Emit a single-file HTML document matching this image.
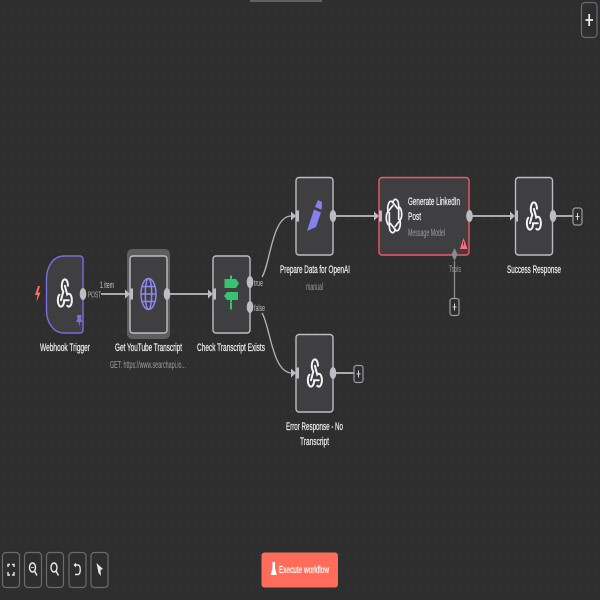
<!DOCTYPE html>
<html><head><meta charset="utf-8"><style>
html,body{margin:0;padding:0;width:600px;height:600px;overflow:hidden;background:#2e2e2e}
svg{display:block;filter:blur(0.35px)}
text{font-family:"Liberation Sans",sans-serif;fill:#f0f0f2;stroke:#f0f0f2;stroke-width:.22}
.s{fill:#9d9da1;stroke:none}
.n{fill:#3f3f42;stroke:#bcbdc4;stroke-width:1.4}
.c{fill:none;stroke:#bcbdc4;stroke-width:1.8}
.t{fill:none;stroke:#b5b6bc;stroke-width:1.3}
.d{fill:#bcbdc4}
.b{fill:#2e2e2e;stroke:#6a6b70;stroke-width:1.2}
.i{fill:none;stroke:#e8e8ea;stroke-width:1.4}
</style></head><body>
<svg width="600" height="600" viewBox="0 0 600 600" xmlns="http://www.w3.org/2000/svg">
<defs>
<pattern id="g" width="8" height="16" patternUnits="userSpaceOnUse" x="0" y="3"><rect x="3.5" y="7.5" width="1.1" height="1.1" fill="#434445"/></pattern>
<g id="hook" fill="none" stroke="#f4f4f5" stroke-width="2" stroke-linecap="round">
<g transform="scale(.78,1.6) translate(-11.5,-12.5)">
<path vector-effect="non-scaling-stroke" d="M4.876 13.61a4 4 0 1 0 6.124 3.39h6"/>
<path vector-effect="non-scaling-stroke" d="M15.066 20.502a4 4 0 1 0 1.934 -7.502c-.706 0 -1.424 .179 -2 .5l-3 -5.5"/>
<path vector-effect="non-scaling-stroke" d="M16 8a4 4 0 1 0 -8 0c0 1.506 .77 2.818 2 3.5l-3 5.5"/>
</g></g>
<g id="inp"><path d="M-5,-4.5 L0,0 L-5,4.5 Z" class="d"/><rect x="0" y="-5.5" width="3" height="11" class="d"/></g>
<g id="plus"><rect x="-4.500" y="-8.500" width="9" height="17" rx="2.500" fill="#2e2e2e" stroke="#9a9ba1" stroke-width="1.2"/><path d="M-2,0 H2 M0,-3.500 V3.500" stroke="#d5d5d8" stroke-width="1"/></g>
</defs>
<rect width="600" height="600" fill="#2e2e2e"/>
<rect width="600" height="600" fill="url(#g)"/>
<rect x="250" y="0" width="72" height="2" fill="#5f6060"/>

<!-- connectors -->
<path class="c" d="M101,294 H126"/>
<path class="c" d="M170,294 H209"/>
<path class="t" d="M262,277 C270,265 272,216 291,216"/>
<path class="t" d="M262,313 C270,325 272,373 292,373"/>
<path class="c" d="M336,216 H375"/>
<path class="c" d="M472,216 H511"/>
<path class="c" d="M556,216 H573"/>
<path class="c" d="M336,373 H355"/>
<path d="M454.500,261 V299" stroke="#8a8b92" stroke-width="1.3" fill="none"/>

<!-- halo -->
<rect x="127" y="249" width="43" height="90" rx="5" fill="#5d5e5e"/>

<!-- nodes -->
<path d="M80,256 a3,3 0 0 1 3,3 V330 a3,3 0 0 1 -3,3 H64 C53,333 46.500,322 46.500,310 V279 C46.500,267 53,256 64,256 Z" fill="#3f3f42" stroke="#7a6fdc" stroke-width="1.4"/>
<rect class="n" x="130" y="256" width="37" height="77" rx="3"/>
<rect class="n" x="213" y="256" width="37" height="77" rx="3"/>
<rect class="n" x="296" y="177.500" width="37" height="77.500" rx="3"/>
<rect x="379" y="177.500" width="90" height="77.500" rx="3" fill="#3f3f42" stroke="#ec5a68" stroke-width="1.4"/>
<rect class="n" x="515.500" y="177.500" width="37" height="77.500" rx="3"/>
<rect class="n" x="296" y="334.500" width="37" height="77.500" rx="3"/>

<!-- inputs -->
<use href="#inp" x="130" y="294"/><use href="#inp" x="213" y="294"/>
<use href="#inp" x="296" y="216"/><use href="#inp" x="379" y="216"/>
<use href="#inp" x="515" y="216"/><use href="#inp" x="296" y="373"/>

<!-- outputs -->
<ellipse class="d" cx="83" cy="294" rx="3.300" ry="6"/>
<ellipse class="d" cx="167" cy="294" rx="3.300" ry="6"/>
<ellipse class="d" cx="250" cy="282" rx="3.300" ry="6"/>
<ellipse class="d" cx="250" cy="307" rx="3.300" ry="6"/>
<ellipse class="d" cx="333" cy="216" rx="3.300" ry="6"/>
<ellipse class="d" cx="469.500" cy="216" rx="3.300" ry="6"/>
<ellipse class="d" cx="553" cy="216" rx="3.300" ry="6"/>
<ellipse class="d" cx="333" cy="373" rx="3.300" ry="6"/>
<path d="M454.500,248 L457.500,254.500 L454.500,261 L451.500,254.500 Z" fill="#8a8b92"/>

<use href="#plus" x="577.500" y="216.500"/>
<use href="#plus" x="358.500" y="374"/>
<use href="#plus" x="454.500" y="307"/>

<!-- icons -->
<use href="#hook" x="64.500" y="293"/>
<use href="#hook" x="533.500" y="216"/>
<use href="#hook" x="314.500" y="373"/>

<g fill="none" stroke="#8f87f1" stroke-width="1.500">
<ellipse cx="148.500" cy="294" rx="7.500" ry="15.500"/><ellipse cx="148.500" cy="294" rx="3.200" ry="15.500"/>
<path d="M141,294 H156 M142,286.500 H155 M142,301.500 H155"/>
</g>

<path d="M230,275.500 H232 V279 H236 L239,283.500 L236,288 H232 V292 H238 V300 H232 V302 H230 V300 H227 L224,296 L227,292 H230 V288 H224.500 V279 H230 Z" fill="#35c46f"/>
<rect x="230" y="302.500" width="2" height="7" fill="#35c46f"/>
<rect x="224" y="288" width="15" height="4" fill="#3f3f42"/>

<path d="M307,231 L314,209.500 L321,212.500 L316,227 Z" fill="#8680ee"/>
<path d="M315,207 L318,200 L322,202 L321.700,209.700 Z" fill="#8680ee"/>

<g fill="none" stroke="#f4f4f5" stroke-width="1.700">
<g transform="translate(394,216) scale(.72,1.6)">
<path vector-effect="non-scaling-stroke" d="M-2,-8 A4.500,4.500 0 0 1 6.500,-6 V2.500"/>
<path vector-effect="non-scaling-stroke" d="M-2,-8 A4.500,4.500 0 0 1 6.500,-6 V2.500" transform="rotate(60)"/>
<path vector-effect="non-scaling-stroke" d="M-2,-8 A4.500,4.500 0 0 1 6.500,-6 V2.500" transform="rotate(120)"/>
<path vector-effect="non-scaling-stroke" d="M-2,-8 A4.500,4.500 0 0 1 6.500,-6 V2.500" transform="rotate(180)"/>
<path vector-effect="non-scaling-stroke" d="M-2,-8 A4.500,4.500 0 0 1 6.500,-6 V2.500" transform="rotate(240)"/>
<path vector-effect="non-scaling-stroke" d="M-2,-8 A4.500,4.500 0 0 1 6.500,-6 V2.500" transform="rotate(300)"/>
</g></g>

<path d="M38,286 L35,295 H37.500 L36.500,302 L40.500,292.500 H38 L40,286 Z" fill="#ff6d5a"/>
<path d="M77,315 H81.500 L81,319 L82.500,322 H80 L79.300,327 L78.600,322 H76 L77.500,319 Z" fill="#7a6fdc"/>
<path d="M463.500,238 L467.500,249 H460 Z" fill="#ff6d7a"/>
<rect x="463.100" y="241.500" width="0.9" height="4" fill="#3f3f42"/>

<!-- labels -->
<text x="40" y="351" font-size="11" textLength="50" lengthAdjust="spacingAndGlyphs">Webhook Trigger</text>
<text x="115" y="351" font-size="11" textLength="67" lengthAdjust="spacingAndGlyphs">Get YouTube Transcript</text>
<text class="s" x="110" y="368" font-size="10" textLength="76" lengthAdjust="spacingAndGlyphs">GET: https://www.searchapi.io...</text>
<text x="197" y="351" font-size="11" textLength="68" lengthAdjust="spacingAndGlyphs">Check Transcript Exists</text>
<text x="280" y="273" font-size="11" textLength="70" lengthAdjust="spacingAndGlyphs">Prepare Data for OpenAI</text>
<text class="s" x="306" y="290" font-size="10" textLength="17" lengthAdjust="spacingAndGlyphs">manual</text>
<text x="408" y="205" font-size="11" textLength="52" lengthAdjust="spacingAndGlyphs">Generate LinkedIn</text>
<text x="408" y="220" font-size="11" textLength="13" lengthAdjust="spacingAndGlyphs">Post</text>
<text class="s" x="408" y="236" font-size="10" textLength="37" lengthAdjust="spacingAndGlyphs">Message Model</text>
<text x="507" y="273" font-size="11" textLength="54" lengthAdjust="spacingAndGlyphs">Success Response</text>
<text x="286" y="430" font-size="11" textLength="57" lengthAdjust="spacingAndGlyphs">Error Response - No</text>
<text x="300" y="445" font-size="11" textLength="29" lengthAdjust="spacingAndGlyphs">Transcript</text>
<text x="100" y="288" font-size="9" style="fill:#c8c8cc;stroke:none" textLength="14" lengthAdjust="spacingAndGlyphs">1 item</text>
<text x="88" y="297.500" font-size="8.500" style="fill:#b5b5b9;stroke:none" textLength="13" lengthAdjust="spacingAndGlyphs">POST</text>
<text x="254" y="286" font-size="9.500" style="fill:#c0c0c4;stroke:none" textLength="9" lengthAdjust="spacingAndGlyphs">true</text>
<text x="254" y="311" font-size="9.500" style="fill:#c0c0c4;stroke:none" textLength="11" lengthAdjust="spacingAndGlyphs">false</text>
<text class="s" x="449" y="272" font-size="9" textLength="12" lengthAdjust="spacingAndGlyphs">Tools</text>

<!-- controls -->
<rect class="b" x="581.500" y="2.500" width="15.500" height="35" rx="3.500"/>
<path d="M585.500,20 H593 M589.200,14 V26" stroke="#f0f0f2" stroke-width="1.700"/>

<rect class="b" x="2.500" y="552.500" width="17" height="35" rx="3.500"/>
<rect class="b" x="24.500" y="552.500" width="17" height="35" rx="3.500"/>
<rect class="b" x="46.500" y="552.500" width="17" height="35" rx="3.500"/>
<rect class="b" x="69" y="552.500" width="17" height="35" rx="3.500"/>
<rect class="b" x="91" y="552.500" width="17" height="35" rx="3.500"/>

<path class="i" d="M8,567 V564.500 H10 M12,564.500 H14 V567 M14,572 V575 H12 M10,575 H8 V572"/>
<ellipse class="i" cx="32.500" cy="567.500" rx="3" ry="4.500"/><path class="i" d="M34.500,571 L37,575.500"/>
<path d="M31,567.500 H34" stroke="#e8e8ea" stroke-width=".8"/>
<ellipse class="i" cx="54" cy="567.500" rx="3" ry="4.500"/><path class="i" d="M56,571 L58.500,575.500"/>
<path class="i" d="M75,565 H78 C81,565 81,574 78,574.500 H75"/><path d="M73.500,565 L76,562.500 V567.500 Z" fill="#e8e8ea"/>
<path d="M96.500,563 L103,569 L100.500,570 L101,576 L98.500,573 Z" fill="#e8e8ea"/>

<rect x="261.500" y="552.500" width="76.500" height="35" rx="3" fill="#ff6d5a"/>
<path d="M272.500,562 H275 V568 L276.800,575 H270.700 L272.500,568 Z" fill="#fff"/>
<text x="279" y="573" font-size="10.500" style="fill:#fff;stroke:#fff" textLength="50" lengthAdjust="spacingAndGlyphs">Execute workflow</text>
</svg>
</body></html>
